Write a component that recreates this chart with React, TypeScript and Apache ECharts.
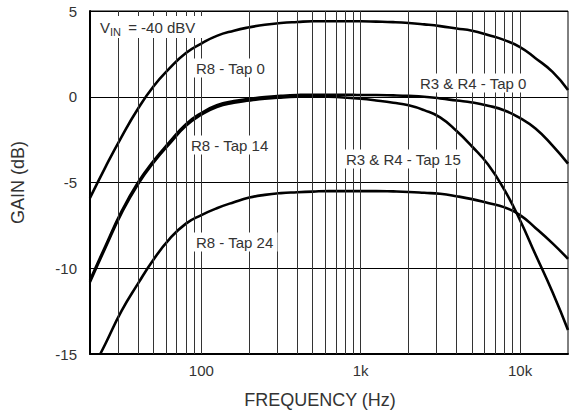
import { useEffect, useRef } from 'react';
import * as echarts from 'echarts';

// Vertical grid lines (Hz) and x tick labels
const gridFreqs = [30, 40, 50, 60, 70, 80, 90, 100, 200, 300, 400, 500, 600, 700, 800, 900, 1000, 2000, 3000, 4000, 5000, 6000, 7000, 8000, 9000, 10000];
const xTickLabels: Record<string, string> = { '100': '100', '1000': '1k', '10000': '10k' };

// Frequencies at which the curves were read (1/3-octave points)
const freqs = [20, 25, 31.5, 40, 50, 63, 80, 100, 125, 160, 200, 250, 315, 400, 500, 630, 800, 1000, 1250, 1600, 2000, 2500, 3150, 4000, 5000, 6300, 8000, 10000, 12500, 16000, 20000];

// R8 - Tap 0 (top curve)
const gainTap0 = [-5.9, -4.1, -2.35, -0.7, 0.6, 1.65, 2.55, 3.1, 3.55, 3.85, 4.05, 4.2, 4.3, 4.36, 4.4, 4.4, 4.4, 4.4, 4.38, 4.35, 4.3, 4.22, 4.12, 3.98, 3.85, 3.6, 3.3, 2.9, 2.25, 1.45, 0.4];

// R8 - Tap 14 (middle curve, gradual roll-off)
const gainTap14 = [-10.7, -8.7, -6.7, -5.0, -3.75, -2.65, -1.6, -0.95, -0.5, -0.25, -0.12, -0.02, 0.05, 0.1, 0.12, 0.12, 0.12, 0.1, 0.1, 0.08, 0.05, 0, -0.1, -0.22, -0.33, -0.52, -0.8, -1.25, -1.85, -2.85, -3.9];

// R3 & R4 - Tap 15 (middle curve, steep roll-off)
const gainTap15 = [-10.8, -8.8, -6.8, -5.1, -3.85, -2.75, -1.7, -1.05, -0.6, -0.35, -0.22, -0.12, -0.05, 0.0, 0.02, 0.0, -0.05, -0.12, -0.22, -0.35, -0.5, -0.78, -1.2, -2.0, -2.9, -3.95, -5.45, -7.2, -9.2, -11.4, -13.6];

// R8 - Tap 24 (bottom curve, enters the plot at 23.2 Hz)
const freqTap24 = [23.2, 25, 31.5, 40, 50, 63, 80, 100, 125, 160, 200, 250, 315, 400, 500, 630, 800, 1000, 1250, 1600, 2000, 2500, 3150, 4000, 5000, 6300, 8000, 10000, 12500, 16000, 20000];
const gainTap24 = [-15, -14.4, -12.5, -10.9, -9.5, -8.3, -7.4, -6.9, -6.5, -6.15, -5.88, -5.72, -5.62, -5.57, -5.53, -5.5, -5.5, -5.5, -5.5, -5.52, -5.55, -5.6, -5.66, -5.8, -5.97, -6.2, -6.45, -6.9, -7.65, -8.55, -9.45];

const curveLabels = ['R8 - Tap 0', 'R3 & R4 - Tap 0', 'R8 - Tap 14', 'R3 & R4 - Tap 15', 'R8 - Tap 24'];

const FONT = '"Liberation Sans", Arial, Helvetica, sans-serif';
const TXT = '#333';

function pairs(f: number[], g: number[]) {
  return f.map((v, i) => [v, g[i]]);
}

export default function App() {
  const ref = useRef<HTMLDivElement>(null);
  useEffect(() => {
    if (!ref.current) return;
    const chart = echarts.init(ref.current, null, { renderer: 'svg' });
    const curveStyle = (w: number) => ({
      type: 'line' as const,
      showSymbol: false,
      smooth: 0.5,
      z: 3,
      lineStyle: { color: '#000', width: w },
      emphasis: { disabled: true },
    });
    const labelPos: [number, number][] = [
      [196, 68],
      [420, 83],
      [191, 145],
      [346, 159],
      [196, 242],
    ];
    const labelText = (s: string, x: number, y: number) => ({
      type: 'text',
      x: x - 4,
      y,
      z: 100,
      style: {
        text: s,
        font: `15px ${FONT}`,
        fill: TXT,
        verticalAlign: 'middle',
        align: 'left',
        backgroundColor: '#fff',
        padding: [2, 4, 2, 4],
      },
    });
    chart.setOption({
      animation: false,
      grid: { left: 90, right: 1, top: 11, bottom: 61, show: true, borderColor: '#000', borderWidth: 1 },
      xAxis: {
        type: 'log',
        logBase: 10,
        min: 20,
        max: 20000,
        name: 'FREQUENCY (Hz)',
        nameLocation: 'middle',
        nameGap: 37,
        nameTextStyle: { fontFamily: FONT, fontSize: 18, color: TXT, padding: [0, 18, 0, 0] },
        axisLine: { onZero: false, lineStyle: { color: '#000', width: 2 } },
        axisTick: { show: false },
        splitLine: { show: false },
        axisLabel: {
          fontFamily: FONT,
          fontSize: 15,
          color: TXT,
          margin: 9,
          formatter: (v: number) => xTickLabels[String(Math.round(v))] ?? '',
        },
      },
      yAxis: {
        type: 'value',
        min: -15,
        max: 5,
        interval: 5,
        name: 'GAIN (dB)',
        nameLocation: 'middle',
        nameGap: 63,
        nameTextStyle: { fontFamily: FONT, fontSize: 18, color: TXT },
        axisLine: { show: true, lineStyle: { color: '#000', width: 2 } },
        axisTick: { show: false },
        splitLine: { show: true, lineStyle: { color: '#000', width: 1 } },
        axisLabel: { fontFamily: FONT, fontSize: 15, color: TXT, margin: 13 },
      },
      series: [
        {
          type: 'line',
          data: [],
          z: 1,
          silent: true,
          markLine: {
            silent: true,
            symbol: 'none',
            label: { show: false },
            lineStyle: { color: '#333', width: 1, type: 'solid' },
            emphasis: { disabled: true },
            data: gridFreqs.map((f) => ({ xAxis: f })),
          },
        },
        { ...curveStyle(2.6), name: curveLabels[0], data: pairs(freqs, gainTap0) },
        { ...curveStyle(2.6), name: curveLabels[2], data: pairs(freqs, gainTap14) },
        { ...curveStyle(2.6), name: curveLabels[3], data: pairs(freqs, gainTap15) },
        { ...curveStyle(2.6), name: curveLabels[4], data: pairs(freqTap24, gainTap24) },
      ],
      graphic: [
        {
          type: 'group',
          z: 100,
          children: [
            { type: 'rect', shape: { x: 96, y: 16, width: 106, height: 22 }, style: { fill: '#fff' }, z: 100 },
            { type: 'text', x: 100, y: 27, z: 101, style: { text: 'V', font: `15px ${FONT}`, fill: TXT, verticalAlign: 'middle' } },
            { type: 'text', x: 110, y: 32, z: 101, style: { text: 'IN', font: `11px ${FONT}`, fill: TXT, verticalAlign: 'middle' } },
            { type: 'text', x: 124, y: 27, z: 101, style: { text: ' = -40 dBV', font: `15px ${FONT}`, fill: TXT, verticalAlign: 'middle' } },
          ],
        },
        ...curveLabels.map((s, i) => labelText(s, labelPos[i][0], labelPos[i][1])),
      ],
    });
    return () => chart.dispose();
  }, []);
  return <div ref={ref} style={{ width: 571, height: 415, position: 'absolute', left: 0, top: 0 }} />;
}
